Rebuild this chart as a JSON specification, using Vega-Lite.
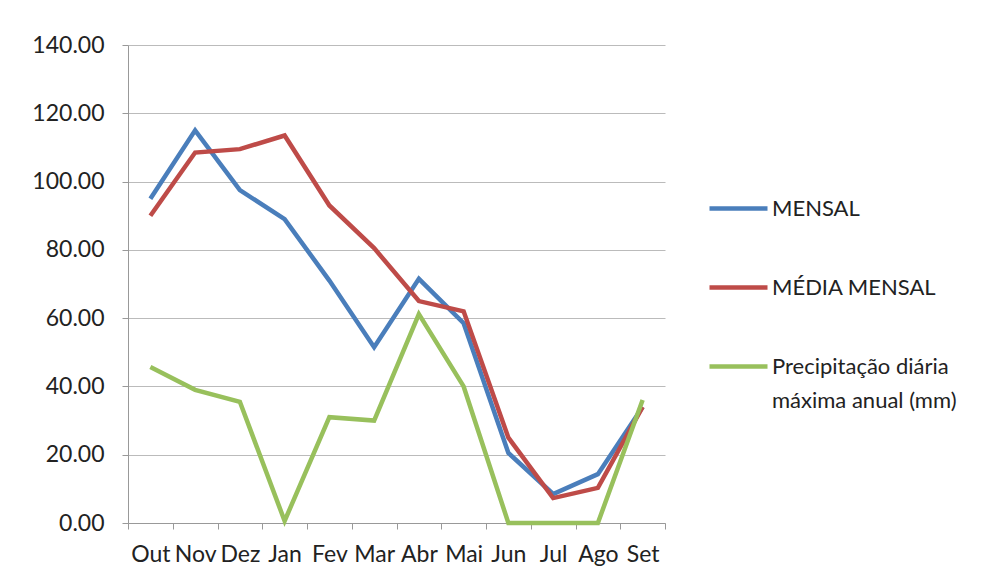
{
  "$schema": "https://vega.github.io/schema/vega-lite/v6.json",
  "width": 537,
  "height": 478,
  "autosize": {"type": "none"},
  "padding": {"left": 128, "top": 45, "right": 334, "bottom": 62},
  "background": "white",
  "config": {
    "font": "Lato",
    "view": {"stroke": null},
    "axis": {"labelFont": "Lato", "labelColor": "#222222", "labelFontSize": 23, "domainColor": "#999999", "tickColor": "#999999", "gridColor": "#bbbbbb"}
  },
  "data": {
    "values": [
      {"mes": "Out", "serie": "MENSAL", "valor": 95.0},
      {"mes": "Nov", "serie": "MENSAL", "valor": 115.0},
      {"mes": "Dez", "serie": "MENSAL", "valor": 97.5},
      {"mes": "Jan", "serie": "MENSAL", "valor": 89.0},
      {"mes": "Fev", "serie": "MENSAL", "valor": 71.0},
      {"mes": "Mar", "serie": "MENSAL", "valor": 51.5},
      {"mes": "Abr", "serie": "MENSAL", "valor": 71.5},
      {"mes": "Mai", "serie": "MENSAL", "valor": 58.5},
      {"mes": "Jun", "serie": "MENSAL", "valor": 20.5},
      {"mes": "Jul", "serie": "MENSAL", "valor": 8.5},
      {"mes": "Ago", "serie": "MENSAL", "valor": 14.3},
      {"mes": "Set", "serie": "MENSAL", "valor": 34.0},
      {"mes": "Out", "serie": "MÉDIA MENSAL", "valor": 90.0},
      {"mes": "Nov", "serie": "MÉDIA MENSAL", "valor": 108.5},
      {"mes": "Dez", "serie": "MÉDIA MENSAL", "valor": 109.5},
      {"mes": "Jan", "serie": "MÉDIA MENSAL", "valor": 113.5},
      {"mes": "Fev", "serie": "MÉDIA MENSAL", "valor": 93.0},
      {"mes": "Mar", "serie": "MÉDIA MENSAL", "valor": 80.5},
      {"mes": "Abr", "serie": "MÉDIA MENSAL", "valor": 65.0},
      {"mes": "Mai", "serie": "MÉDIA MENSAL", "valor": 62.0},
      {"mes": "Jun", "serie": "MÉDIA MENSAL", "valor": 25.0},
      {"mes": "Jul", "serie": "MÉDIA MENSAL", "valor": 7.3},
      {"mes": "Ago", "serie": "MÉDIA MENSAL", "valor": 10.3},
      {"mes": "Set", "serie": "MÉDIA MENSAL", "valor": 34.0},
      {"mes": "Out", "serie": "Precipitação diária máxima anual (mm)", "valor": 45.7},
      {"mes": "Nov", "serie": "Precipitação diária máxima anual (mm)", "valor": 39.0},
      {"mes": "Dez", "serie": "Precipitação diária máxima anual (mm)", "valor": 35.5},
      {"mes": "Jan", "serie": "Precipitação diária máxima anual (mm)", "valor": 0.6},
      {"mes": "Fev", "serie": "Precipitação diária máxima anual (mm)", "valor": 31.0},
      {"mes": "Mar", "serie": "Precipitação diária máxima anual (mm)", "valor": 30.0},
      {"mes": "Abr", "serie": "Precipitação diária máxima anual (mm)", "valor": 61.2},
      {"mes": "Mai", "serie": "Precipitação diária máxima anual (mm)", "valor": 40.0},
      {"mes": "Jun", "serie": "Precipitação diária máxima anual (mm)", "valor": 0.0},
      {"mes": "Jul", "serie": "Precipitação diária máxima anual (mm)", "valor": 0.0},
      {"mes": "Ago", "serie": "Precipitação diária máxima anual (mm)", "valor": 0.0},
      {"mes": "Set", "serie": "Precipitação diária máxima anual (mm)", "valor": 36.0}
    ]
  },
  "mark": {"type": "line", "strokeWidth": 4.5, "strokeJoin": "miter"},
  "encoding": {
    "x": {
      "field": "mes",
      "type": "ordinal",
      "sort": ["Out", "Nov", "Dez", "Jan", "Fev", "Mar", "Abr", "Mai", "Jun", "Jul", "Ago", "Set"],
      "scale": {"type": "band", "paddingInner": 0, "paddingOuter": 0},
      "bandPosition": 0.5,
      "axis": {"title": null, "labelAngle": 0, "tickBand": "extent", "tickSize": 6, "labelPadding": 14, "grid": false, "labelOverlap": false}
    },
    "y": {
      "field": "valor",
      "type": "quantitative",
      "scale": {"domain": [0, 140], "nice": false},
      "axis": {"title": null, "format": ".2f", "values": [0, 20, 40, 60, 80, 100, 120, 140], "tickSize": 6, "labelPadding": 18, "grid": true, "labelOverlap": false}
    },
    "color": {
      "field": "serie",
      "type": "nominal",
      "scale": {
        "domain": ["MENSAL", "MÉDIA MENSAL", "Precipitação diária máxima anual (mm)"],
        "range": ["#4a7ebb", "#be4b48", "#98c05c"]
      },
      "legend": {
        "title": null,
        "orient": "none",
        "legendX": 579,
        "legendY": 132,
        "symbolType": "stroke",
        "symbolSize": 3364,
        "symbolStrokeWidth": 4.5,
        "labelFontSize": 22,
        "labelFont": "Lato",
        "labelColor": "#222222",
        "labelOffset": 2,
        "rowPadding": 36,
        "labelLimit": 400,
        "labelExpr": "datum.label == 'Precipitação diária máxima anual (mm)' ? ['Precipitação diária', 'máxima anual (mm)'] : datum.label",
        "encode": {"labels": {"update": {"lineHeight": {"value": 34}}}}
      }
    }
  }
}
